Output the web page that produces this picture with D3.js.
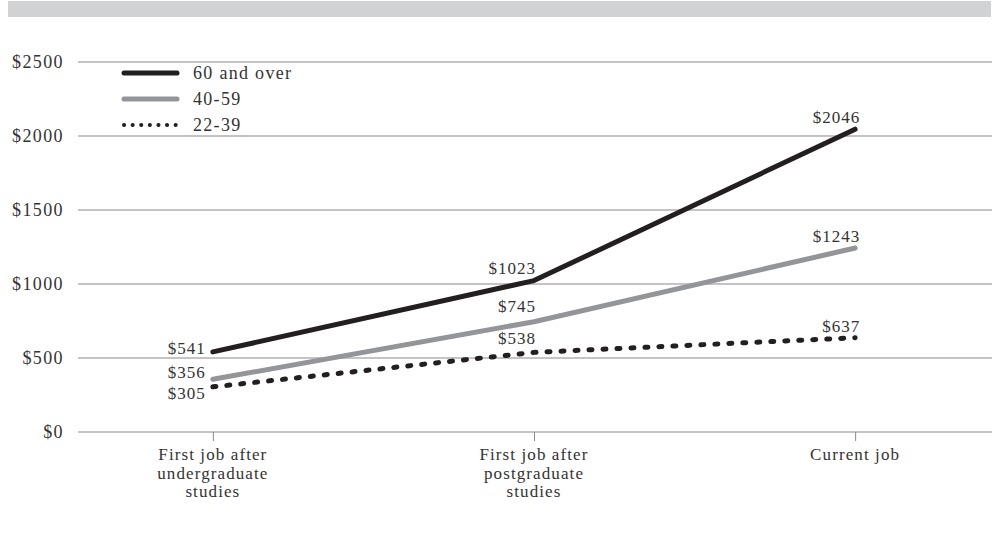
<!DOCTYPE html>
<html>
<head>
<meta charset="utf-8">
<script src="https://cdn.jsdelivr.net/npm/d3@7"></script>
<style>
  html, body { margin: 0; padding: 0; background: #fff; }
  svg text { font-family: "Liberation Serif", "Times New Roman", serif; fill: #333; }
</style>
</head>
<body>
<svg id="chart" width="992" height="539"></svg>
<script>
// Jobs along a career path
const categories = [
  ["First job after", "undergraduate", "studies"],
  ["First job after", "postgraduate", "studies"],
  ["Current job"]
];
const categoryKeys = ["undergrad", "postgrad", "current"];

// Average salary by age group
const seriesNames = ["60 and over", "40-59", "22-39"];
const over60 = [541, 1023, 2046];
const age40to59 = [356, 745, 1243];
const age22to39 = [305, 538, 637];

const yTicks = [0, 500, 1000, 1500, 2000, 2500];
const yTickLabels = ["$0", "$500", "$1000", "$1500", "$2000", "$2500"];

const series = [
  { name: seriesNames[0], values: over60, color: "#231f20", dash: null },
  { name: seriesNames[1], values: age40to59, color: "#939598", dash: null },
  { name: seriesNames[2], values: age22to39, color: "#231f20", dash: "3,11" }
];

const svg = d3.select("#chart");
const W = 992;

// header band
svg.append("rect").attr("x", 8).attr("y", 1).attr("width", 983).attr("height", 16)
  .attr("fill", "#d1d2d4");

const x = d3.scalePoint().domain(categoryKeys).range([78, 990]).padding(0.42);
const y = d3.scaleLinear().domain([0, 2500]).range([432, 62]);

// horizontal grid + y labels
const yAxis = d3.axisLeft(y).tickValues(yTicks).tickSize(0).tickFormat((d, i) => yTickLabels[i]);
const gy = svg.append("g").attr("transform", "translate(64,0)").call(yAxis);
gy.select(".domain").remove();
gy.selectAll("text").attr("x", 0).attr("dy", "0.32em")
  .style("font-size", "18px").style("letter-spacing", "1.4px").attr("text-anchor", "end");

svg.append("g").selectAll("line").data(yTicks).join("line")
  .attr("x1", 78).attr("x2", W).attr("y1", d => y(d)).attr("y2", d => y(d))
  .attr("stroke", "#8a8a8a").attr("stroke-width", 1.2);

// x axis ticks and wrapped labels
const gx = svg.append("g").attr("transform", "translate(0,432)")
  .call(d3.axisBottom(x).tickSize(9).tickFormat(""));
gx.select(".domain").remove();
gx.selectAll(".tick line").attr("stroke", "#8a8a8a").attr("stroke-width", 1);

const xl = svg.append("g").selectAll("text").data(categoryKeys).join("text")
  .attr("x", d => x(d)).attr("y", 460).attr("text-anchor", "middle")
  .style("font-size", "17px").style("letter-spacing", "1.1px");
xl.each(function (d, i) {
  d3.select(this).selectAll("tspan").data(categories[i]).join("tspan")
    .attr("x", x(d)).attr("dy", (t, j) => j === 0 ? 0 : 18.5).text(t => t);
});

// lines
const line = d3.line().x((d, i) => x(categoryKeys[i])).y(d => y(d));
svg.append("g").selectAll("path").data(series.slice().reverse()).join("path")
  .attr("d", s => line(s.values))
  .attr("fill", "none")
  .attr("stroke", s => s.color)
  .attr("stroke-width", 5)
  .attr("stroke-linecap", "round")
  .attr("stroke-linejoin", "round")
  .attr("stroke-dasharray", s => s.dash);

// value labels: offsets per series/point
const labelOffsets = [
  [[-7, 2], [2, -7], [5, -6]],
  [[-7, -1], [2, -10], [5, -6]],
  [[-7, 12], [2, -8], [5, -6]]
];
series.forEach((s, si) => {
  svg.append("g").selectAll("text").data(s.values).join("text")
    .attr("x", (d, i) => x(categoryKeys[i]) + labelOffsets[si][i][0])
    .attr("y", (d, i) => y(d) + labelOffsets[si][i][1])
    .attr("text-anchor", "end")
    .style("font-size", "17px").style("letter-spacing", "1px")
    .text(d => "$" + d);
});

// legend
const leg = svg.append("g").selectAll("g").data(series).join("g")
  .attr("transform", (d, i) => `translate(0,${73 + i * 26})`);
leg.append("line").attr("x1", 124).attr("x2", 177).attr("y1", 0).attr("y2", 0)
  .attr("stroke", d => d.color).attr("stroke-width", (d, i) => i === 2 ? 4 : 5)
  .attr("stroke-linecap", "round")
  .attr("stroke-dasharray", (d, i) => i === 2 ? "0.1,8.5" : null);
leg.append("text").attr("x", 193).attr("y", 0).attr("dy", "0.32em")
  .style("font-size", "18px").style("letter-spacing", "1.3px").text(d => d.name);
</script>
</body>
</html>
